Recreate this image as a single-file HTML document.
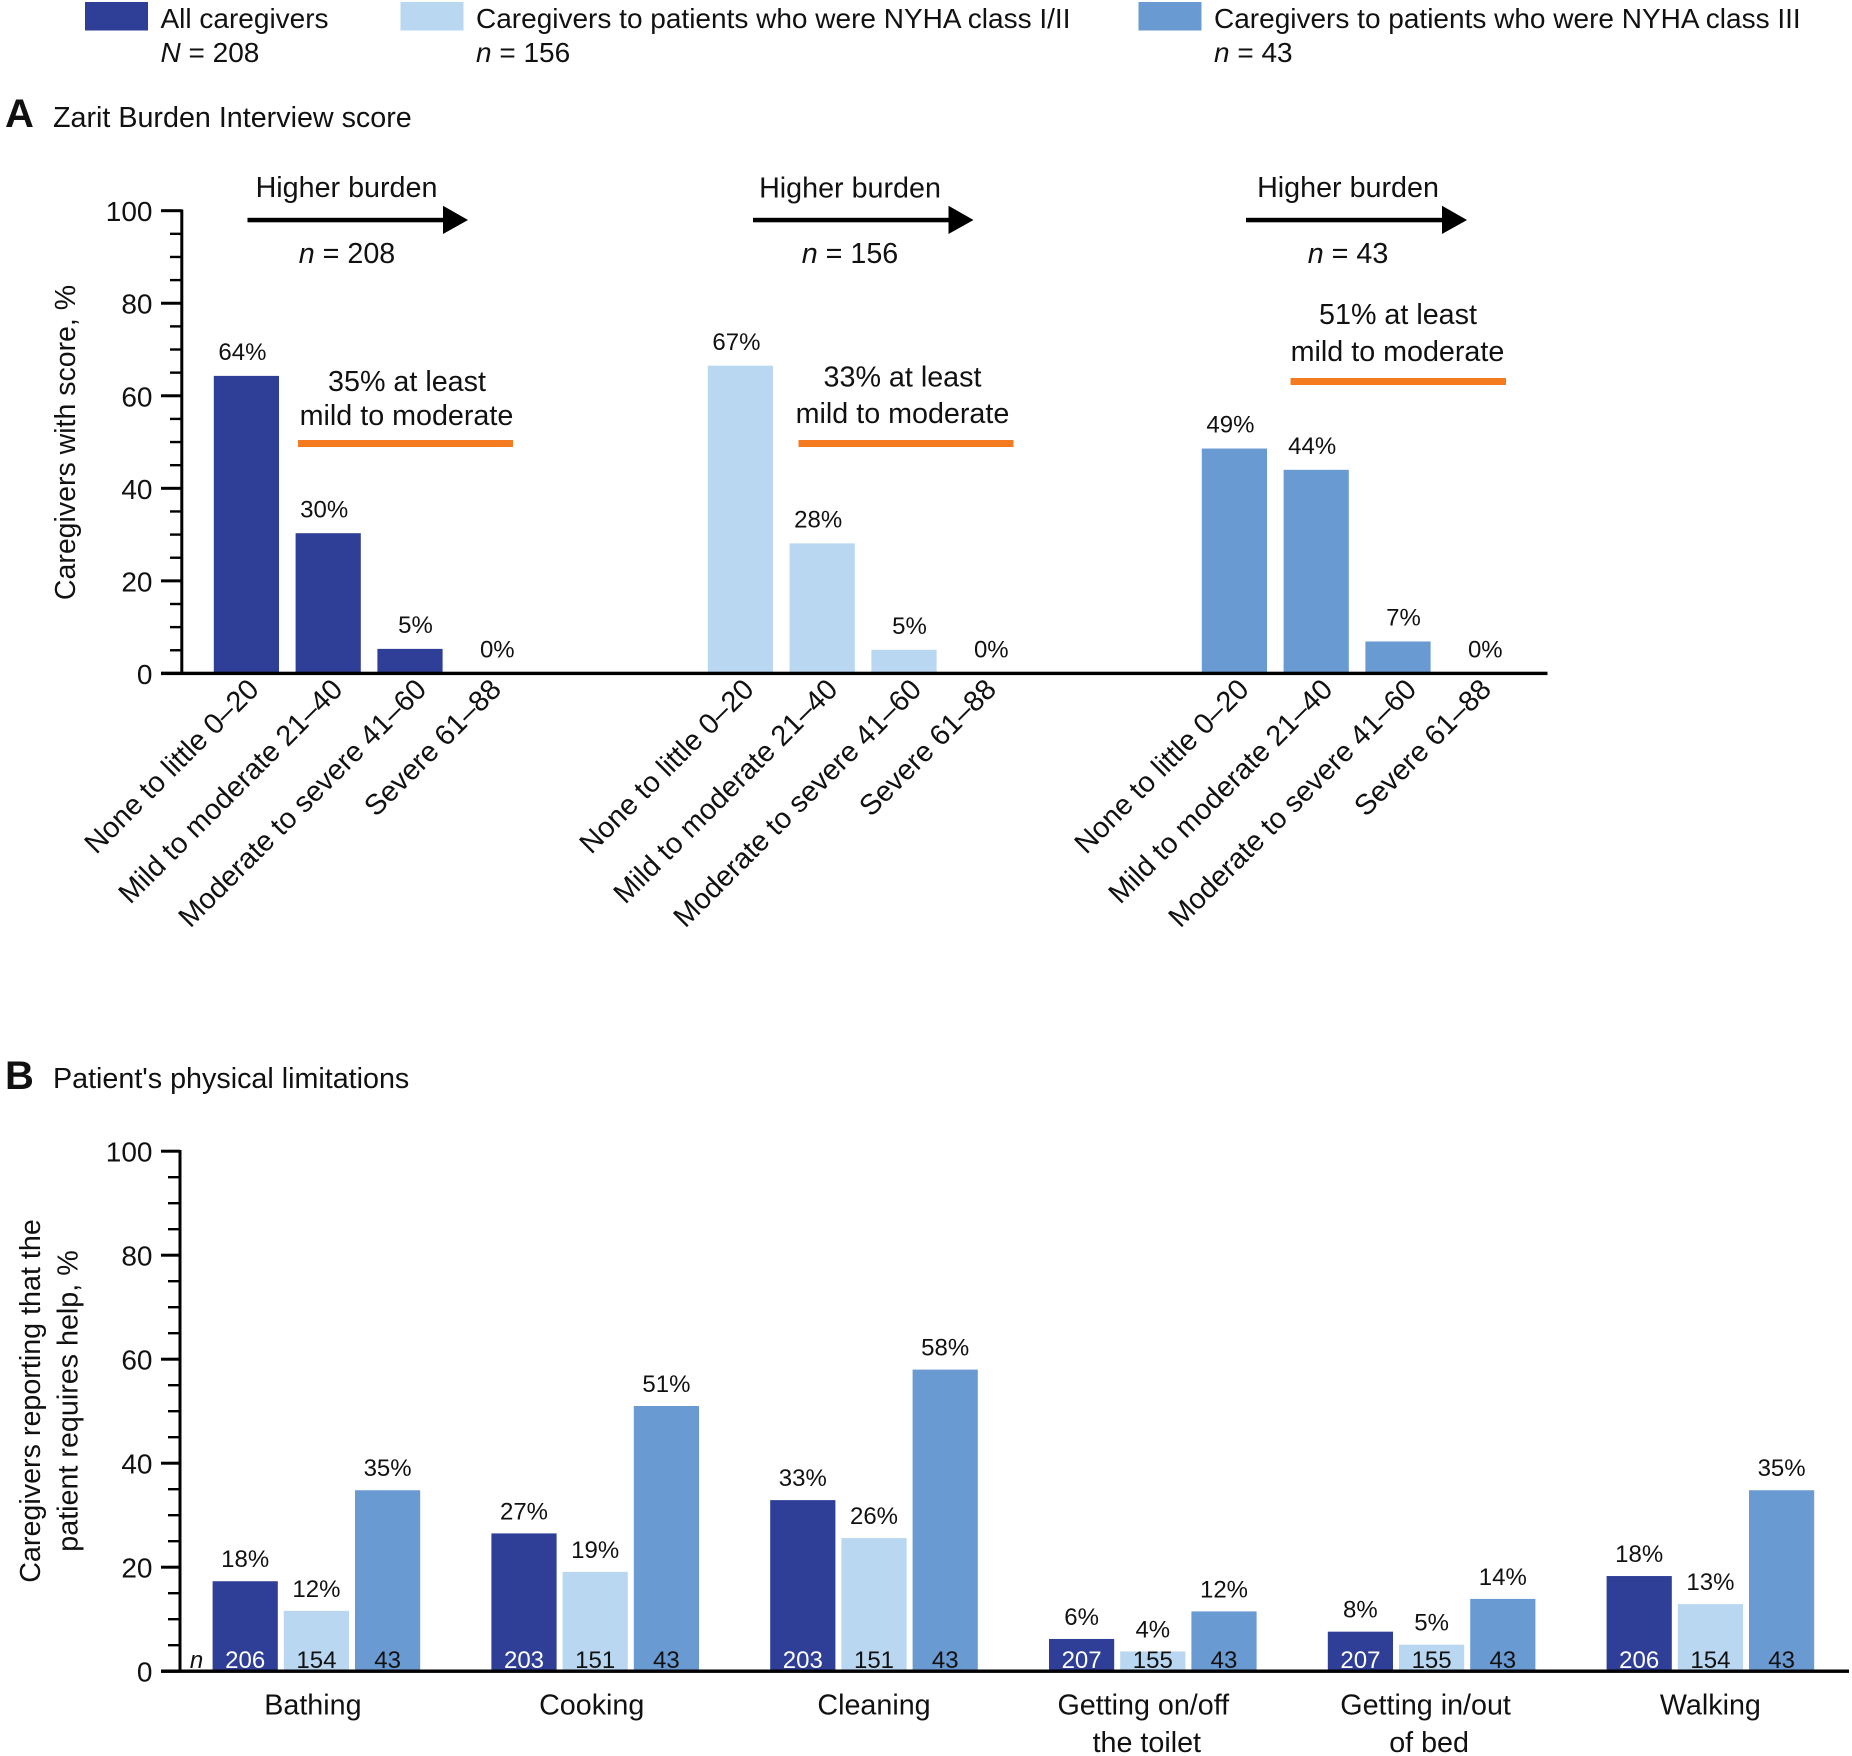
<!DOCTYPE html>
<html lang="en">
<head>
<meta charset="utf-8">
<title>Caregiver burden and patient physical limitations</title>
<style>
  html, body { margin: 0; padding: 0; background: #fff; }
  svg { display: block; }
  text { font-family: "Liberation Sans", Arial, sans-serif; font-size: 28.7px; fill: #111; }
  .v { font-size: 24px; }
  .c { text-anchor: middle; }
  .lg, .yt { font-size: 28px; }
  .rot { font-size: 28.8px; }
</style>
</head>
<body>
<svg id="chart" xmlns="http://www.w3.org/2000/svg" width="1852" height="1756" viewBox="0 0 1852 1756">
  <rect x="0" y="0" width="1852" height="1756" fill="#fff"/>

  <g>
    <rect x="85" y="2" width="63" height="28.5" fill="#2f3e96"/>
    <text class="lg" x="160.5" y="28">All caregivers</text>
    <text class="lg" x="160.5" y="62"><tspan font-style="italic">N</tspan> = 208</text>
    <rect x="400.5" y="2" width="63" height="28.5" fill="#b9d7f0"/>
    <text class="lg" x="476" y="28">Caregivers to patients who were NYHA class I/II</text>
    <text class="lg" x="476" y="62"><tspan font-style="italic">n</tspan> = 156</text>
    <rect x="1138.5" y="2" width="63" height="28.5" fill="#6a9ad2"/>
    <text class="lg" x="1214" y="28">Caregivers to patients who were NYHA class III</text>
    <text class="lg" x="1214" y="62"><tspan font-style="italic">n</tspan> = 43</text>
  </g>

  <text x="5" y="127" style="font-size:40px;font-weight:bold">A</text>
  <text x="53" y="127">Zarit Burden Interview score</text>
  <text x="5" y="1089" style="font-size:40px;font-weight:bold">B</text>
  <text x="53" y="1088">Patient's physical limitations</text>

  <text class="c" style="font-size:28.5px" transform="translate(75 442.5) rotate(-90)">Caregivers with score, %</text>
  <text class="c" transform="translate(40 1401) rotate(-90)">Caregivers reporting that the</text>
  <text class="c" transform="translate(77.5 1401) rotate(-90)">patient requires help, %</text>

  <g>
    <text class="c" x="346.5" y="197">Higher burden</text>
    <rect x="247.5" y="217.8" width="197" height="4.5" fill="#000"/>
    <polygon points="443,205.7 468,220 443,234" fill="#000"/>
    <text class="c" x="347" y="263"><tspan font-style="italic">n</tspan> = 208</text>
    <text class="c" x="407" y="391">35% at least</text>
    <text class="c" x="406.5" y="425">mild to moderate</text>
    <rect x="298" y="440" width="215" height="7" fill="#f47b20"/>
  </g>
  <g>
    <text class="c" x="850" y="197.5">Higher burden</text>
    <rect x="753" y="217.8" width="197" height="4.5" fill="#000"/>
    <polygon points="948.5,205.7 973.5,220 948.5,234" fill="#000"/>
    <text class="c" x="850" y="263"><tspan font-style="italic">n</tspan> = 156</text>
    <text class="c" x="902.5" y="386.5">33% at least</text>
    <text class="c" x="902.5" y="423">mild to moderate</text>
    <rect x="798.5" y="440" width="215" height="7" fill="#f47b20"/>
  </g>
  <g>
    <text class="c" x="1348" y="197">Higher burden</text>
    <rect x="1246" y="217.8" width="197" height="4.5" fill="#000"/>
    <polygon points="1442,205.7 1467,220 1442,234" fill="#000"/>
    <text class="c" x="1348" y="263"><tspan font-style="italic">n</tspan> = 43</text>
    <text class="c" x="1398" y="324">51% at least</text>
    <text class="c" x="1397.5" y="361">mild to moderate</text>
    <rect x="1290.5" y="378" width="215.5" height="7" fill="#f47b20"/>
  </g>

  <text class="v c" x="196.5" y="1668" font-style="italic">n</text>
</svg>

<script>
// ---------- Panel A data ----------
const burdenCategories = ['None to little 0\u201320', 'Mild to moderate 21\u201340', 'Moderate to severe 41\u201360', 'Severe 61\u201388'];
const burdenGroups = ['all', 'class-1-2', 'class-3'];
const burdenAll = [64.3, 30.3, 5.3, 0];
const burdenClass12 = [66.5, 28.1, 5.1, 0];
const burdenClass3 = [48.6, 44.0, 6.9, 0];
const burdenAllLabels = ['64%', '30%', '5%', '0%'];
const burdenClass12Labels = ['67%', '28%', '5%', '0%'];
const burdenClass3Labels = ['49%', '44%', '7%', '0%'];

// ---------- Panel B data ----------
const activityCategories = [['Bathing'], ['Cooking'], ['Cleaning'], ['Getting on/off', 'the toilet'], ['Getting in/out', 'of bed'], ['Walking']];
const helpAll = [17.3, 26.5, 32.9, 6.2, 7.6, 18.3];
const helpClass12 = [11.6, 19.1, 25.6, 3.8, 5.1, 12.9];
const helpClass3 = [34.8, 51.0, 58.0, 11.5, 13.9, 34.8];
const helpAllLabels = ['18%', '27%', '33%', '6%', '8%', '18%'];
const helpClass12Labels = ['12%', '19%', '26%', '4%', '5%', '13%'];
const helpClass3Labels = ['35%', '51%', '58%', '12%', '14%', '35%'];
const helpAllN = ['206', '203', '203', '207', '207', '206'];
const helpClass12N = ['154', '151', '151', '155', '155', '154'];
const helpClass3N = ['43', '43', '43', '43', '43', '43'];

// ---------- Axis data ----------
const yTickLabels = [0, 20, 40, 60, 80, 100];
const yMinorTicks = [5, 10, 15, 25, 30, 35, 45, 50, 55, 65, 70, 75, 85, 90, 95];

// ---------- Scales ----------
const BAR_W = 65.2;
const yA = v => 673.4 - v * 4.627;
const yB = v => 1671.2 - v * 5.2;
const xA = (g, i) => 213.8 + g * 494 + i * 81.8;
const xB = (g, s) => 212.6 + g * 278.8 + s * 71.2;
const colors = ['#2f3e96', '#b9d7f0', '#6a9ad2'];

const svg = document.getElementById('chart');
function el(tag, attrs, text) {
  const n = document.createElementNS('http://www.w3.org/2000/svg', tag);
  for (const k in attrs) n.setAttribute(k, attrs[k]);
  if (text !== undefined) n.textContent = text;
  svg.appendChild(n);
  return n;
}

function drawYAxis(panel, yScale, axisX, majorLeft, minorLeft) {
  const line = el('rect', { x: axisX - 1.5, y: yScale(100) - 1.2, width: 3, height: yScale(0) - yScale(100) + 2, fill: '#000' });
  
  
  yTickLabels.forEach(v => {
    const t = el('rect', { x: majorLeft, y: yScale(v) - 1.5, width: axisX - majorLeft, height: 3, fill: '#000' });
    
    
    const lab = el('text', { class: 'yt', x: 152.5, y: yScale(v) + 10.5, 'text-anchor': 'end' }, String(v));
    
    
  });
  yMinorTicks.forEach(v => {
    const t = el('rect', { x: minorLeft, y: yScale(v) - 1.2, width: axisX - minorLeft, height: 2.4, fill: '#000' });
    
    
  });
}

// ---------- Panel A bars ----------
const burdenSeries = [burdenAll, burdenClass12, burdenClass3];
const burdenLabels = [burdenAllLabels, burdenClass12Labels, burdenClass3Labels];
const labelNudge = i => (i < 2 ? -4 : 5.5);
const rotatedNudge = (g, i) => (i === 0 ? 14 : i === 1 ? 16 : i === 2 ? 18 : 11) + g;

burdenSeries.forEach((series, g) => {
  series.forEach((v, i) => {
    const x = xA(g, i);
    if (v > 0) {
      const bar = el('rect', { x: x, y: yA(v), width: BAR_W, height: yA(0) - yA(v), fill: colors[g] });
      
      
    }
    const val = el('text', { class: 'v c', x: x + BAR_W / 2 + labelNudge(i), y: yA(v) - 15.8 }, burdenLabels[g][i]);
    
    
    const ax = x + BAR_W / 2 + rotatedNudge(g, i);
    const cat = el('text', { class: 'rot', 'text-anchor': 'end', transform: 'translate(' + ax + ' 691) rotate(-45)' }, burdenCategories[i]);
    
    
  });
});

drawYAxis('panel-a', yA, 181.8, 161, 170);
const axisA = el('rect', { x: 161, y: yA(0) - 1.7, width: 1386.5, height: 3.4, fill: '#000' });



// ---------- Panel B bars ----------
const helpSeries = [helpAll, helpClass12, helpClass3];
const helpLabels = [helpAllLabels, helpClass12Labels, helpClass3Labels];
const helpN = [helpAllN, helpClass12N, helpClass3N];
const nColors = ['#fff', '#111', '#111'];

helpSeries.forEach((series, s) => {
  series.forEach((v, g) => {
    const x = xB(g, s);
    const bar = el('rect', { x: x, y: yB(v), width: BAR_W, height: yB(0) - yB(v), fill: colors[s] });
    
    
    const val = el('text', { class: 'v c', x: x + BAR_W / 2, y: yB(v) - 14 }, helpLabels[s][g]);
    
    
    const nLab = el('text', { class: 'v c', x: x + BAR_W / 2, y: 1668, style: 'fill:' + nColors[s] }, helpN[s][g]);
    
    
  });
});

const categoryShift = g => (g === 2 || g === 5 ? 0 : g === 3 ? -9.5 : g === 4 ? -6 : -3.5);
activityCategories.forEach((lines, g) => {
  lines.forEach((line, k) => {
    const c = xB(g, 1) + BAR_W / 2 + categoryShift(g) + k * 3.5;
    const cat = el('text', { class: 'c', x: c, y: 1714.5 + k * 37.5 }, line);
    
    
  });
});

drawYAxis('panel-b', yB, 180, 161, 168);
const axisB = el('rect', { x: 161, y: yB(0) - 1.7, width: 1688, height: 3.4, fill: '#000' });


</script>
</body>
</html>
